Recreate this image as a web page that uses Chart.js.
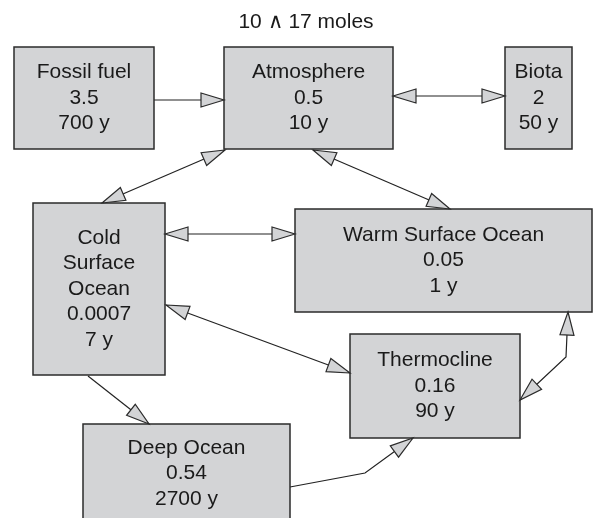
<!DOCTYPE html>
<html>
<head>
<meta charset="utf-8">
<script src="https://cdn.jsdelivr.net/npm/chart.js@4.4.1/dist/chart.umd.min.js"></script>
<style>
  body { margin: 0; background: #fff; }
  #wrap { width: 603px; height: 518px; }
</style>
</head>
<body>
<div id="wrap"><canvas id="boxChart"></canvas></div>
<script>
// reservoir data
const unitLabel = "10 \u2227 17 moles";
const reservoirs = ["Fossil fuel", "Atmosphere", "Biota", "Cold Surface Ocean", "Warm Surface Ocean", "Thermocline", "Deep Ocean"];
const amounts = [3.5, 0.5, 2, 0.0007, 0.05, 0.16, 0.54];
const lifetimes = [700, 10, 50, 7, 1, 90, 2700];
// flows: from, to, both ways
const flowFrom = [0, 1, 1, 1, 3, 3, 3, 6, 5];
const flowTo   = [1, 2, 3, 4, 4, 5, 6, 5, 4];
const flowBoth = [false, true, true, true, true, true, false, false, true];

// layout (diagram units = pixels of the 603x518 frame)
const boxPos = [
    [14, 47, 154, 149],
    [224, 47, 393, 149],
    [505, 47, 572, 149],
    [33, 203, 165, 375],
    [295, 209, 592, 312],
    [350, 334, 520, 438],
    [83, 424, 290, 524]
];
const wrapWords = [false, false, false, true, false, false, false];
const flowPath = [
    [[154, 100], [224, 100]],
    [[393, 96], [505, 96]],
    [[225, 150], [102, 203]],
    [[313, 150], [450, 209]],
    [[165, 234], [295, 234]],
    [[166, 305], [350, 373]],
    [[88, 376], [149, 424]],
    [[290, 487], [365, 473], [413, 438]],
    [[520, 400], [566, 357], [568, 312]]
];
const titlePos = [306, 22];

const boxFill = "#d3d4d6";
const edge = "#2b2b2b";
const font = "21px 'Liberation Sans', Arial, sans-serif";

function drawHead(ctx, tip, from) {
    const dx = tip.x - from.x, dy = tip.y - from.y;
    const len = Math.hypot(dx, dy);
    const ux = dx / len, uy = dy / len;
    const L = 23, W = 7;
    ctx.beginPath();
    ctx.moveTo(tip.x, tip.y);
    ctx.lineTo(tip.x - ux * L - uy * W, tip.y - uy * L + ux * W);
    ctx.lineTo(tip.x - ux * L + uy * W, tip.y - uy * L - ux * W);
    ctx.closePath();
    ctx.fillStyle = boxFill;
    ctx.fill();
    ctx.lineWidth = 1.2;
    ctx.strokeStyle = edge;
    ctx.stroke();
}

const boxPlugin = {
    id: "boxes",
    afterDatasetsDraw(chart) {
        const ctx = chart.ctx;
        const sx = chart.scales.x, sy = chart.scales.y;
        const px = v => sx.getPixelForValue(v);
        const py = v => sy.getPixelForValue(v);
        ctx.save();
        reservoirs.forEach((name, i) => {
            const b = boxPos[i];
            const x0 = px(b[0]), y0 = py(b[1]), x1 = px(b[2]), y1 = py(b[3]);
            ctx.fillStyle = boxFill;
            ctx.fillRect(x0, y0, x1 - x0, y1 - y0);
            ctx.lineWidth = 1.5;
            ctx.strokeStyle = edge;
            ctx.strokeRect(x0, y0, x1 - x0, y1 - y0);
            const lines = (wrapWords[i] ? name.split(" ") : [name]).concat([String(amounts[i]), lifetimes[i] + " y"]);
            const cx = (x0 + x1) / 2;
            const cy = (y0 + y1) / 2;
            const lh = 25.5;
            ctx.fillStyle = "#1a1a1a";
            ctx.font = font;
            ctx.textAlign = "center";
            ctx.textBaseline = "middle";
            // deep ocean box runs off the frame, so its text hangs from the top edge
            const top = (i === 6 ? y0 + 24 : cy - lh * (lines.length - 1) / 2);
            lines.forEach((t, k) => ctx.fillText(t, cx, top + k * lh));
        });
        // arrow heads
        flowPath.forEach((p, i) => {
            const pts = p.map(q => ({ x: px(q[0]), y: py(q[1]) }));
            drawHead(ctx, pts[pts.length - 1], pts[pts.length - 2]);
            if (flowBoth[i]) drawHead(ctx, pts[0], pts[1]);
        });
        ctx.fillStyle = "#1a1a1a";
        ctx.font = font;
        ctx.textAlign = "center";
        ctx.textBaseline = "middle";
        ctx.fillText(unitLabel, px(titlePos[0]), py(titlePos[1]));
        ctx.restore();
    }
};

new Chart(document.getElementById("boxChart"), {
    type: "scatter",
    data: {
        datasets: flowPath.map((p, i) => ({
            label: reservoirs[flowFrom[i]] + " - " + reservoirs[flowTo[i]],
            data: p.map(q => ({ x: q[0], y: q[1] })),
            showLine: true,
            borderColor: "#222",
            borderWidth: 1.2,
            pointRadius: 0,
            fill: false
        }))
    },
    options: {
        responsive: true,
        maintainAspectRatio: false,
        animation: false,
        layout: { padding: 0 },
        plugins: { legend: { display: false }, tooltip: { enabled: false } },
        scales: {
            x: { type: "linear", min: 0, max: 603, display: false },
            y: { type: "linear", min: 0, max: 518, reverse: true, display: false }
        }
    },
    plugins: [boxPlugin]
});
</script>
</body>
</html>
